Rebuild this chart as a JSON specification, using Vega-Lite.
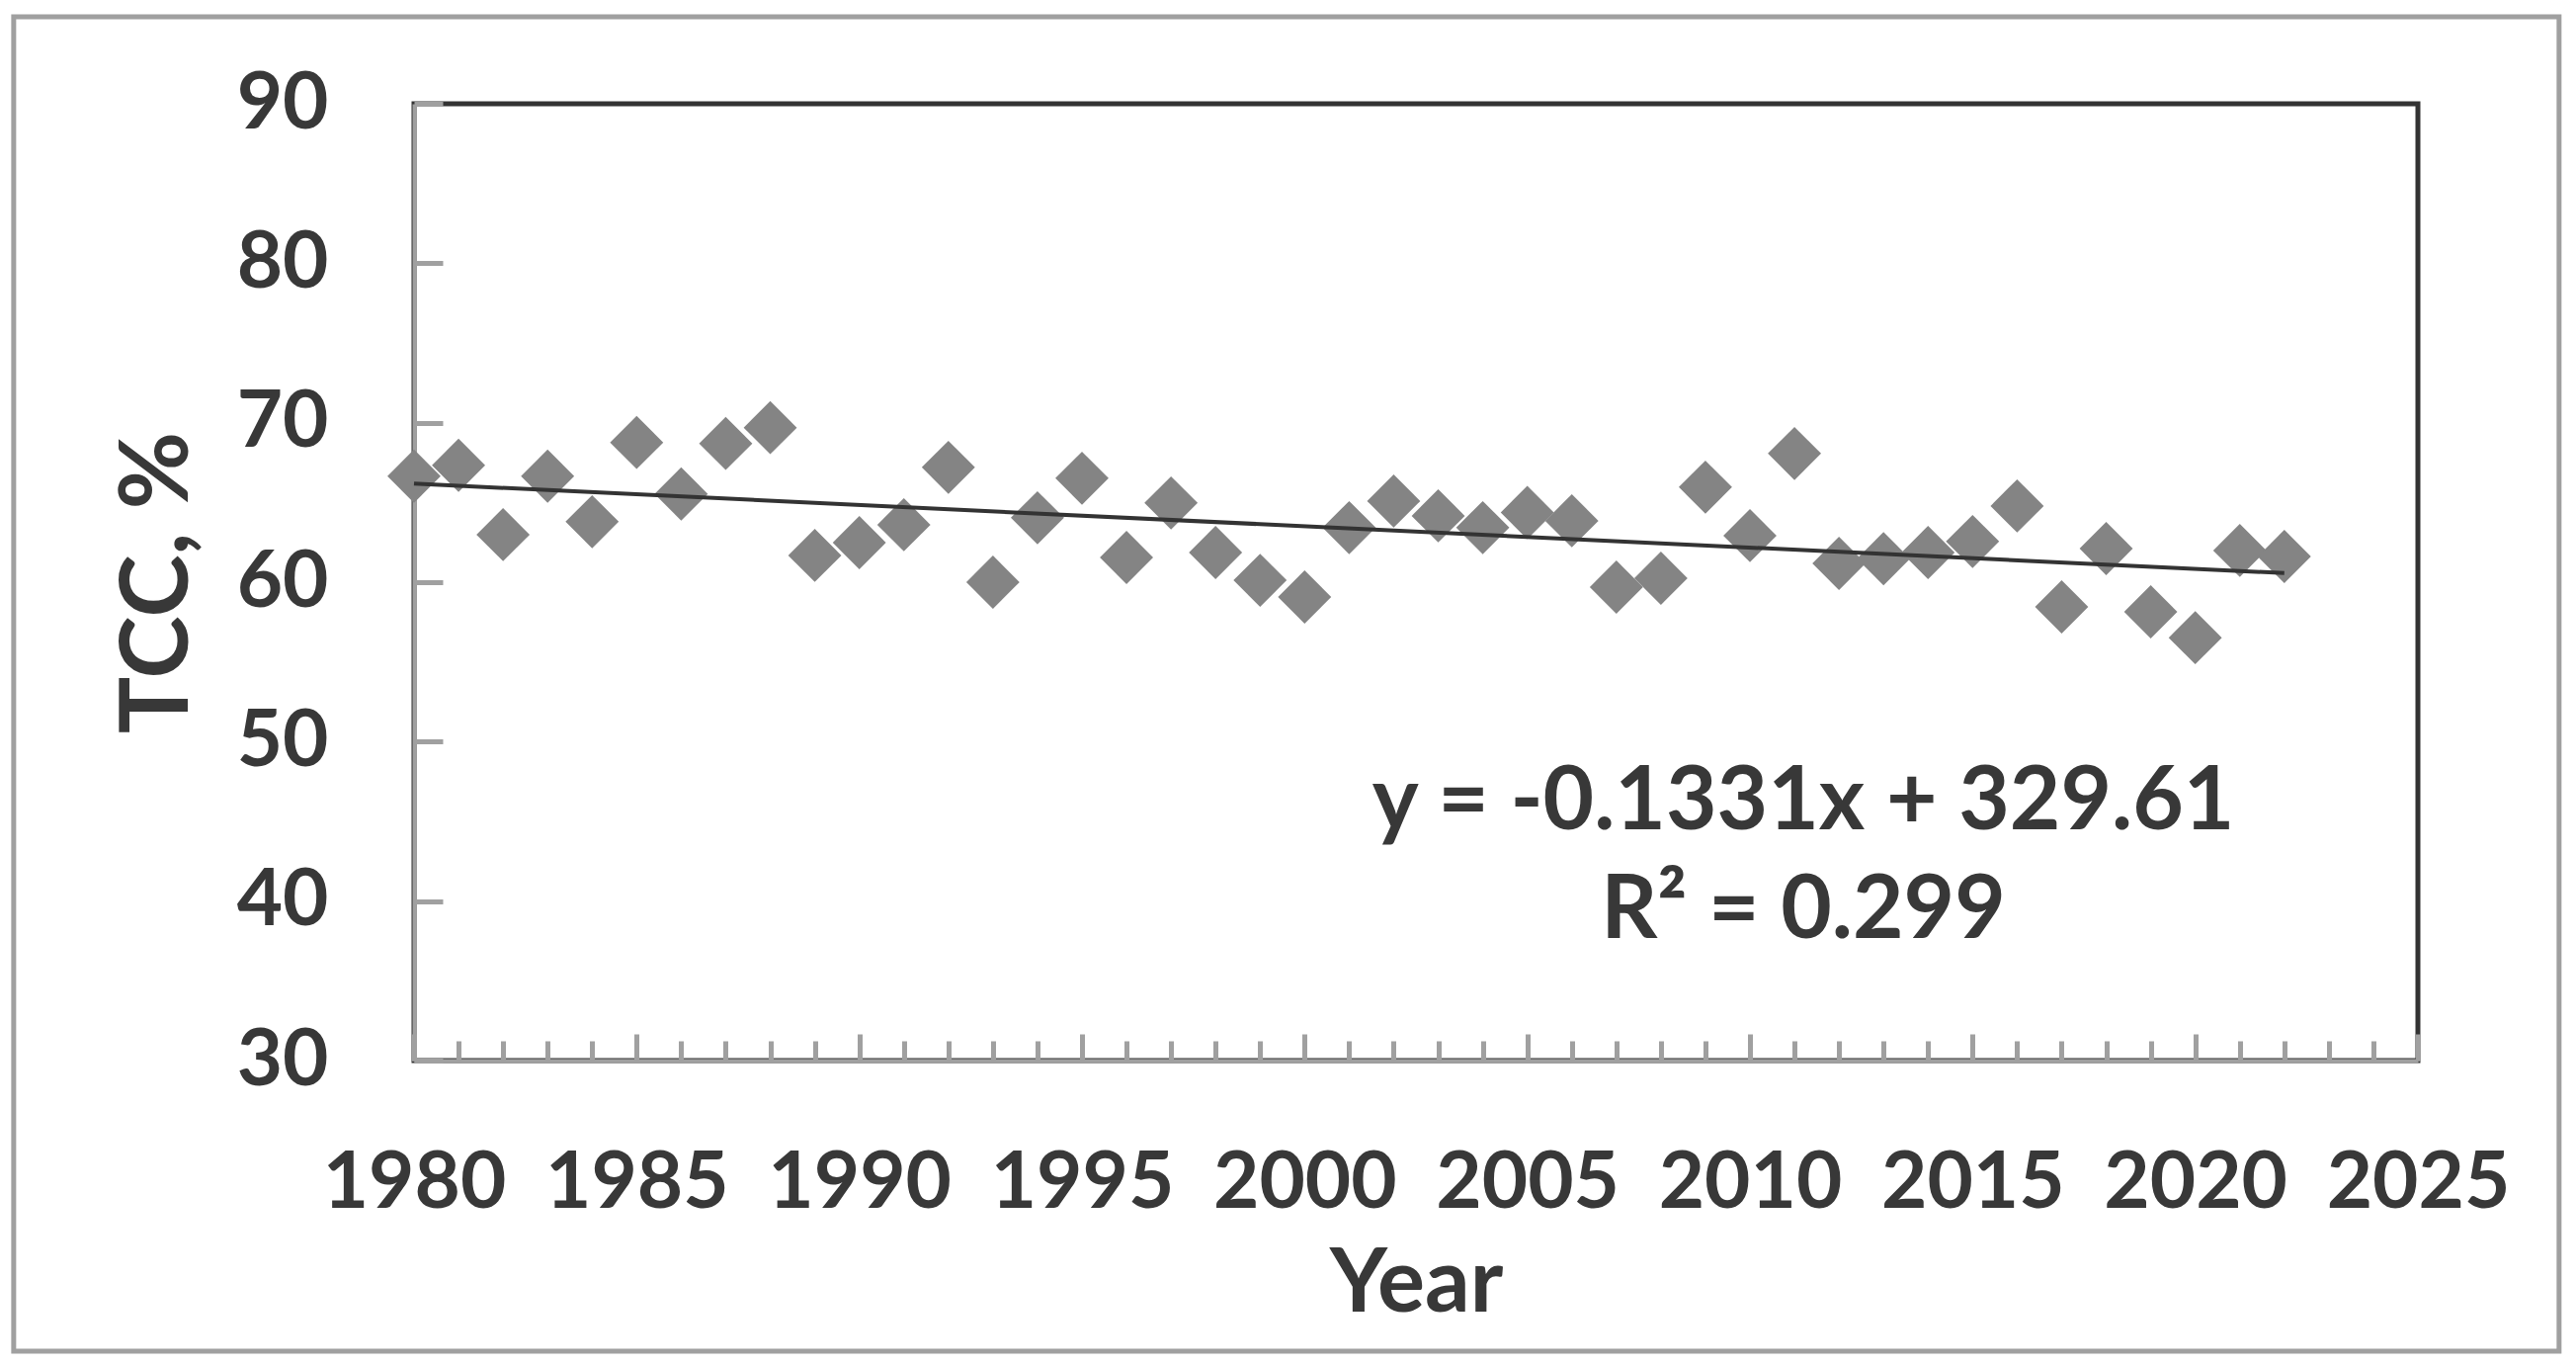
{
  "$schema": "https://vega.github.io/schema/vega-lite/v6.json",
  "width": 2028,
  "height": 968,
  "autosize": {"type": "none"},
  "padding": {"left": 419, "top": 105, "right": 160, "bottom": 308},
  "background": "white",
  "config": {"view": {"stroke": "#333333", "strokeWidth": 5}, "font": "Lato"},
  "datasets": {
    "tcc": [
      {"year": 1980, "value": 66.65}, {"year": 1981, "value": 67.33}, {"year": 1982, "value": 62.98},
      {"year": 1983, "value": 66.65}, {"year": 1984, "value": 63.79}, {"year": 1985, "value": 68.76},
      {"year": 1986, "value": 65.53}, {"year": 1987, "value": 68.7}, {"year": 1988, "value": 69.69},
      {"year": 1989, "value": 61.68}, {"year": 1990, "value": 62.48}, {"year": 1991, "value": 63.6},
      {"year": 1992, "value": 67.2}, {"year": 1993, "value": 60.0}, {"year": 1994, "value": 64.04},
      {"year": 1995, "value": 66.52}, {"year": 1996, "value": 61.55}, {"year": 1997, "value": 64.97},
      {"year": 1998, "value": 61.86}, {"year": 1999, "value": 60.12}, {"year": 2000, "value": 59.07},
      {"year": 2001, "value": 63.42}, {"year": 2002, "value": 65.09}, {"year": 2003, "value": 64.16},
      {"year": 2004, "value": 63.42}, {"year": 2005, "value": 64.37}, {"year": 2006, "value": 63.85},
      {"year": 2007, "value": 59.69}, {"year": 2008, "value": 60.25}, {"year": 2009, "value": 65.96},
      {"year": 2010, "value": 62.92}, {"year": 2011, "value": 68.07}, {"year": 2012, "value": 61.18},
      {"year": 2013, "value": 61.47}, {"year": 2014, "value": 61.86}, {"year": 2015, "value": 62.55},
      {"year": 2016, "value": 64.78}, {"year": 2017, "value": 58.45}, {"year": 2018, "value": 62.11},
      {"year": 2019, "value": 58.14}, {"year": 2020, "value": 56.52}, {"year": 2021, "value": 61.99},
      {"year": 2022, "value": 61.61}
    ]
  },
  "resolve": {"axis": {"x": "independent"}},
  "layer": [
    {
      "data": {"name": "tcc"},
      "mark": {"type": "point", "shape": "diamond", "filled": true, "color": "#848484", "opacity": 1, "size": 2900},
      "encoding": {
        "x": {
          "field": "year", "type": "quantitative",
          "scale": {"domain": [1980, 2025], "nice": false, "zero": false},
          "axis": {
            "orient": "bottom", "values": [1980, 1985, 1990, 1995, 2000, 2005, 2010, 2015, 2020, 2025],
            "format": "d", "grid": false, "labelOverlap": false, "labelLimit": 0, "labelFlush": false,
            "tickSize": -27, "tickWidth": 5, "tickColor": "#a0a0a0",
            "domainColor": "#a0a0a0", "domainWidth": 4,
            "labelFont": "Lato", "labelFontWeight": "bold", "labelFontSize": 80, "labelColor": "#383838", "labelPadding": 112,
            "title": "Year", "titleFont": "Lato", "titleFontWeight": "bold", "titleFontSize": 90, "titleColor": "#383838", "titlePadding": 18
          }
        },
        "y": {
          "field": "value", "type": "quantitative",
          "scale": {"domain": [30, 90], "nice": false, "zero": false},
          "axis": {
            "values": [30, 40, 50, 60, 70, 80, 90], "grid": false, "labelLimit": 0,
            "tickSize": -29, "tickWidth": 5, "tickColor": "#a0a0a0",
            "domainColor": "#a0a0a0", "domainWidth": 4,
            "labelFont": "Lato", "labelFontWeight": "bold", "labelFontSize": 80, "labelColor": "#383838", "labelPadding": 116,
            "title": "TCC, %", "titleFont": "Lato", "titleFontWeight": "bold", "titleFontSize": 96, "titleColor": "#383838", "titlePadding": 30
          }
        }
      }
    },
    {
      "data": {"values": [{}]},
      "mark": {"type": "rect", "filled": false, "stroke": "#a0a0a0", "strokeWidth": 5, "clip": false},
      "encoding": {
        "x": {"datum": 1971.01, "type": "quantitative", "axis": null},
        "x2": {"datum": 2028.17},
        "y": {"datum": 95.45, "type": "quantitative"},
        "y2": {"datum": 11.78}
      }
    },
    {
      "data": {"name": "tcc"},
      "transform": [{"regression": "value", "on": "year"}],
      "mark": {"type": "line", "color": "#333333", "strokeWidth": 4},
      "encoding": {
        "x": {
          "field": "year", "type": "quantitative",
          "axis": {
            "orient": "bottom", "values": [1980,1981,1982,1983,1984,1985,1986,1987,1988,1989,1990,1991,1992,1993,1994,1995,1996,1997,1998,1999,2000,2001,2002,2003,2004,2005,2006,2007,2008,2009,2010,2011,2012,2013,2014,2015,2016,2017,2018,2019,2020,2021,2022,2023,2024,2025],
            "labels": false, "domain": false, "title": null, "grid": false,
            "tickSize": -20, "tickWidth": 5, "tickColor": "#a0a0a0"
          }
        },
        "y": {"field": "value", "type": "quantitative"}
      }
    },
    {
      "data": {"values": [{}]},
      "mark": {"type": "text", "text": ["y = -0.1331x + 329.61", "R² = 0.299"], "lineHeight": 110, "font": "Lato", "fontWeight": "bold", "fontSize": 89, "color": "#383838", "align": "center", "baseline": "middle"},
      "encoding": {
        "x": {"datum": 2011.2, "type": "quantitative", "axis": null},
        "y": {"datum": 46.15, "type": "quantitative"}
      }
    }
  ]
}
